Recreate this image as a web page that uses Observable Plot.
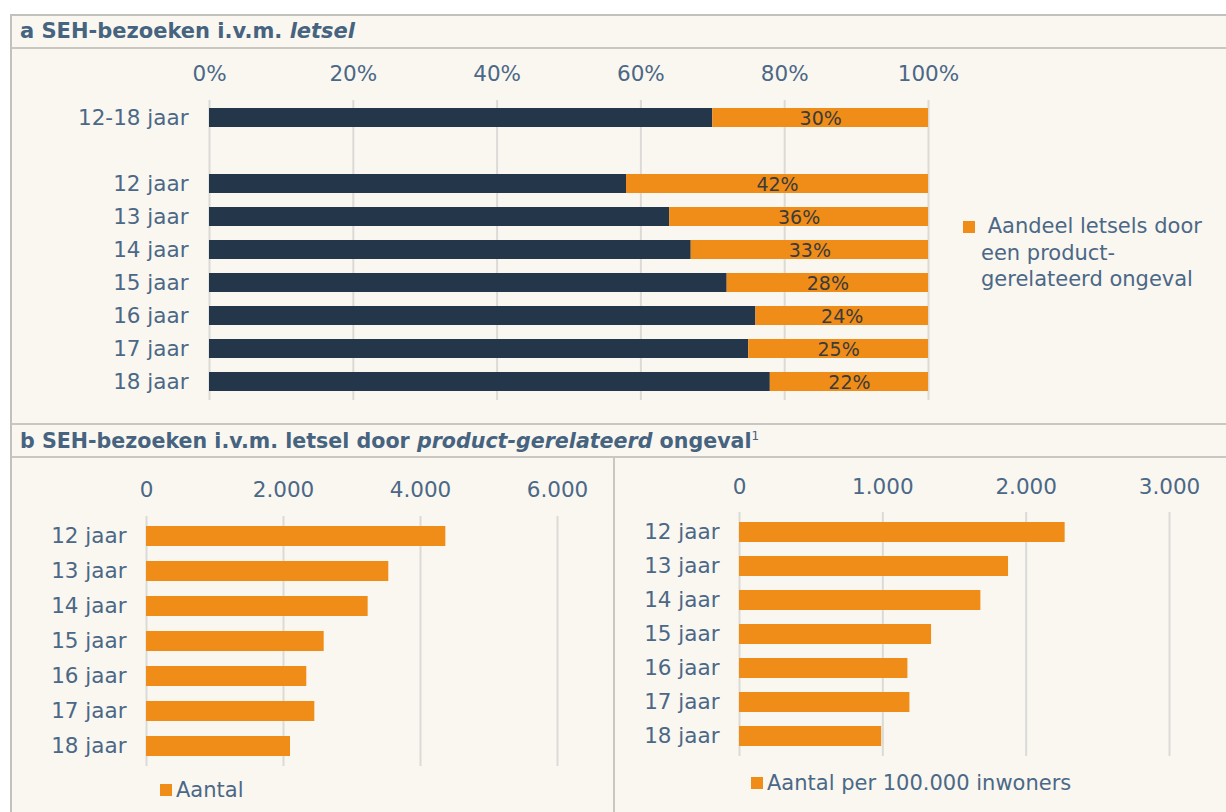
<!DOCTYPE html>
<html>
<head>
<meta charset="utf-8">
<script src="https://cdn.jsdelivr.net/npm/d3@7"></script>
<script src="https://cdn.jsdelivr.net/npm/@observablehq/plot@0.6"></script>
<style>
  body { margin: 0; background: #ffffff; font-family: "DejaVu Sans", Verdana, sans-serif; }
  #root { position: relative; width: 1226px; height: 812px; overflow: hidden; }
  .frame { position: absolute; left: 10px; top: 14px; width: 1240px; height: 820px; border: 2px solid #c3c1bd; background: #faf7f1; box-sizing: border-box; }
  .hline { position: absolute; left: 12px; width: 1220px; height: 2px; background: #cac7c2; }
  .vline { position: absolute; width: 2px; background: #cac7c2; }
  .title { position: absolute; left: 20px; font-weight: bold; font-size: 21px; line-height: 24px; color: #46637f; white-space: nowrap; }
  .title sup { font-weight: normal; font-size: 12px; vertical-align: 8px; line-height: 0; }
  .plot { position: absolute; }
  .legend { position: absolute; font-size: 21px; color: #4b6886; white-space: nowrap; }
  .sw { position: absolute; background: #f08d19; }
</style>
</head>
<body>
<div id="root">
  <div class="frame"></div>
  <div class="title" style="top:19px">a SEH-bezoeken i.v.m. <i>letsel</i></div>
  <div class="hline" style="top:47px"></div>
  <div class="hline" style="top:423px"></div>
  <div class="title" style="top:429px; font-size:20.6px">b SEH-bezoeken i.v.m. letsel door <i>product-gerelateerd</i> ongeval<sup>1</sup></div>
  <div class="hline" style="top:456px"></div>
  <div class="vline" style="left:613px; top:457px; height:360px"></div>
  <div id="pa" class="plot" style="left:0px; top:47px"></div>
  <div id="pb1" class="plot" style="left:0px; top:457px"></div>
  <div id="pb2" class="plot" style="left:614px; top:457px"></div>
  <div class="sw" style="left:963px; top:221px; width:12px; height:12px"></div>
  <div class="legend" style="left:981px; top:213px; line-height:26.5px">&nbsp;Aandeel letsels door<br>een product-<br>gerelateerd ongeval</div>
  <div class="sw" style="left:160px; top:784px; width:12px; height:12px"></div>
  <div class="legend" style="left:176px; top:777px; line-height:26px">Aantal</div>
  <div class="sw" style="left:751px; top:777px; width:12px; height:12px"></div>
  <div class="legend" style="left:767px; top:770px; line-height:26px">Aantal per 100.000 inwoners</div>
</div>
<script>
// ---- data ----
const shareCats = ["12-18 jaar", "12 jaar", "13 jaar", "14 jaar", "15 jaar", "16 jaar", "17 jaar", "18 jaar"];
const shareRows = ["12-18 jaar", "", "12 jaar", "13 jaar", "14 jaar", "15 jaar", "16 jaar", "17 jaar", "18 jaar"];
const productShare = [30, 42, 36, 33, 28, 24, 25, 22];
const ageCats = ["12 jaar", "13 jaar", "14 jaar", "15 jaar", "16 jaar", "17 jaar", "18 jaar"];
const aantal = [4370, 3537, 3236, 2594, 2340, 2457, 2102];
const perInwoners = [2272, 1877, 1684, 1340, 1175, 1189, 992];
const pctTicks = [0, 20, 40, 60, 80, 100];
const aantalTicks = [0, 2000, 4000, 6000];
const perTicks = [0, 1000, 2000, 3000];
const partNames = ["overig", "product"];

// ---- styling ----
const navy = "#243649";
const orange = "#f08d19";
const textCol = "#4b6886";
const gridCol = "#dcdad6";
const fs = 21.5;
const nl = d3.formatLocale({decimal: ",", thousands: ".", grouping: [3], currency: ["€", ""]}).format(",");
const baseStyle = {background: "transparent", fontFamily: "DejaVu Sans, Verdana, sans-serif", fontSize: fs + "px", color: textCol, overflow: "visible"};

// ---- panel a ----
const rowsA = shareCats.flatMap((c, i) => [
  {cat: c, part: partNames[0], value: 100 - productShare[i]},
  {cat: c, part: partNames[1], value: productShare[i]}
]);
const pa = Plot.plot({
  width: 950, height: 377,
  marginLeft: 209, marginRight: 22, marginTop: 53, marginBottom: 24,
  style: baseStyle,
  x: {domain: [0, 100], label: null},
  y: {domain: shareRows, paddingInner: 0.42, paddingOuter: 0.25, label: null},
  color: {domain: partNames, range: [navy, orange]},
  marks: [
    Plot.gridX(pctTicks, {stroke: gridCol, strokeOpacity: 1, strokeWidth: 2}),
    Plot.barX(rowsA, Plot.stackX({x: "value", y: "cat", fill: "part"})),
    Plot.text(rowsA, Plot.stackX({x: "value", y: "cat", text: d => d.part === "product" ? d.value + "%" : "", fill: "#3b3b3b", fontSize: 19, dy: 1})),
    Plot.axisX(pctTicks, {anchor: "top", tickSize: 0, tickPadding: 20, tickFormat: d => d + "%", fontSize: fs, fill: textCol, label: null}),
    Plot.axisY({tickSize: 0, tickPadding: 21, fontSize: fs, fill: textCol, label: null})
  ]
});
document.getElementById("pa").append(pa);

// ---- panel b ----
function barPanel(values, ticks, opts) {
  const rows = ageCats.map((c, i) => ({cat: c, value: values[i]}));
  return Plot.plot({
    width: 612, height: 355,
    marginLeft: opts.ml, marginRight: opts.mr, marginTop: opts.mt, marginBottom: opts.mb,
    style: baseStyle,
    x: {domain: [ticks[0], ticks[ticks.length - 1]], label: null},
    y: {domain: ageCats, paddingInner: opts.pi, paddingOuter: opts.po, label: null},
    marks: [
      Plot.gridX(ticks, {stroke: gridCol, strokeOpacity: 1, strokeWidth: 2}),
      Plot.barX(rows, {x: "value", y: "cat", fill: orange}),
      Plot.axisX(ticks, {anchor: "top", tickSize: 0, tickPadding: opts.tp, tickFormat: nl, fontSize: fs, fill: textCol, label: null}),
      Plot.axisY({tickSize: 0, tickPadding: 20, fontSize: fs, fill: textCol, label: null})
    ]
  });
}
document.getElementById("pb1").append(barPanel(aantal, aantalTicks, {ml: 146, mr: 55, mt: 59, mb: 46, pi: 0.44, po: 0.225, tp: 20}));
document.getElementById("pb2").append(barPanel(perInwoners, perTicks, {ml: 125, mr: 57, mt: 55, mb: 56, pi: 0.424, po: 0.23, tp: 19}));
</script>
</body>
</html>
